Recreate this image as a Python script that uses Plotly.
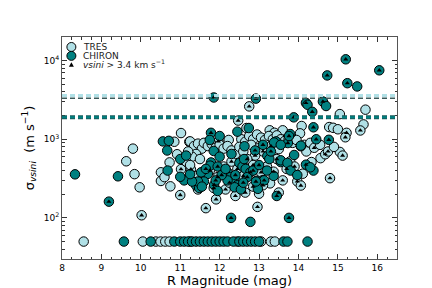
import plotly.graph_objects as go

# ---------------- data ----------------
tres_mag = [8.55, 10.05, 10.38, 10.5, 10.62, 10.73, 11.25, 12.45, 13.05, 13.3, 13.4,
            9.63, 9.8, 9.84, 9.97, 10.02,
            10.51, 10.51, 10.6, 10.73, 10.75, 10.85, 10.92, 11.02, 11.23, 11.25, 11.97,
            11.02, 11.27, 11.0, 11.65, 11.91, 12.96, 13.0, 13.5, 13.28, 13.37, 13.79,
            13.97, 14.06, 14.11, 14.33, 14.56, 14.68, 14.8, 15.05, 15.12,
            12.47, 12.75, 14.08, 15.05, 15.7, 15.65, 15.57, 14.78, 14.88, 15.0, 15.22, 15.19,
            13.27, 13.39, 13.6, 14.04, 12.23, 12.68,
            11.35, 11.45, 11.55, 11.6, 11.7, 11.8, 11.9, 12.0, 12.1, 12.2, 12.3, 12.4, 11.4, 11.3, 11.5, 11.2, 11.15, 11.25,
            12.55, 12.65, 12.75, 12.85, 12.95, 13.05, 13.15, 13.25, 13.35, 13.45, 13.55, 13.65, 13.75, 13.85, 13.95, 14.15, 14.3,
            12.5, 12.6, 12.8, 13.0, 13.1, 12.9, 12.7, 13.3, 13.5,
            11.75, 11.95, 12.1, 12.3, 12.45, 12.6, 12.85, 13.05, 13.2, 11.55, 11.35, 12.15, 12.4, 12.65, 12.85, 13.1,
            13.6, 13.7, 13.9, 14.2, 14.4, 14.55, 14.75, 14.9, 11.85, 12.25, 13.45, 11.45]
tres_sig = [50, 50, 50, 50, 50, 50, 50, 50, 50, 50, 50,
            525, 760, 360, 245, 108,
            380, 295, 330, 508, 252, 930, 645, 1200, 930, 940, 940,
            417, 415, 195, 133, 172, 138, 203, 210, 275, 387, 524,
            291, 258, 365, 513, 575, 645, 320, 690, 620,
            1730, 2620, 1475, 2090, 2380, 1545, 1294, 1430, 1400, 1340, 1208, 1060,
            1300, 1210, 1300, 1190, 980, 1390,
            820, 880, 760, 900, 820, 870, 780, 850, 760, 820, 720, 650, 650, 600, 560, 700, 520, 470,
            1000, 930, 1100, 1000, 1150, 1050, 980, 1100, 1000, 1120, 1000, 950, 1000, 900, 980, 850, 900,
            800, 700, 850, 780, 700, 620, 560, 820, 750,
            400, 330, 450, 520, 420, 340, 470, 380, 450, 300, 340, 230, 190, 210, 250, 260,
            300, 420, 450, 700, 780, 850, 700, 800, 240, 280, 560, 230]
tres_flag = [0, 0, 0, 0, 0, 0, 0, 0, 0, 0, 0,
             0, 0, 0, 0, 1,
             0, 0, 0, 0, 0, 0, 0, 0, 0, 0, 1,
             1, 1, 1, 1, 1, 1, 0, 1, 0, 1, 0,
             1, 1, 0, 0, 0, 1, 1, 0, 1,
             1, 1, 0, 0, 0, 0, 1, 0, 0, 0, 1, 1,
             0, 0, 0, 0, 0, 0,
             0, 0, 0, 0, 0, 0, 0, 0, 0, 0, 0, 0, 0, 0, 0, 0, 0, 0,
             0, 0, 0, 0, 0, 0, 0, 0, 0, 0, 0, 0, 0, 0, 0, 0, 0,
             0, 0, 0, 0, 1, 1, 1, 1, 0,
             1, 1, 0, 1, 1, 1, 1, 1, 0, 0, 0, 1, 1, 1, 1, 1,
             1, 1, 1, 0, 1, 0, 1, 0, 1, 1, 1, 0]

chiron_mag = [9.57, 10.25, 10.85, 11.0, 11.1, 11.2, 11.3, 11.4, 11.5, 11.6, 11.7, 11.8, 11.9, 12.0, 12.1,
              12.2, 12.35, 12.5, 12.6, 12.7, 12.8, 12.9, 13.0, 13.62, 13.72, 14.23,
              8.33, 9.19, 9.42, 10.56, 10.71, 10.67, 10.68, 11.78, 11.85, 12.92, 14.19, 14.23, 14.35, 14.62,
              14.7, 14.73, 15.2, 15.24, 15.49, 16.05, 13.88, 14.38, 14.45, 14.77, 12.29, 12.78, 13.76, 13.45,
              13.79, 13.43, 13.73, 14.06, 12.63, 12.74,
              13.89, 13.55, 13.37, 12.94, 12.97, 14.19, 14.38, 14.3, 13.1,
              11.85, 11.78, 11.76, 11.7, 11.53, 11.4, 11.48, 11.6, 11.45, 11.55, 11.86, 12.2, 12.28, 12.37, 12.2,
              12.5, 12.58, 12.62, 12.66, 12.78, 12.45, 12.38, 12.54, 13.13, 12.92, 13.21, 13.26, 13.38, 13.55,
              13.76, 14.06, 13.55, 13.72, 13.8, 13.97, 11.1, 11.3, 11.65, 11.95, 12.05, 12.15, 12.4, 12.7,
              12.85, 13.0, 12.0, 12.3, 12.9, 13.1, 13.2, 11.9, 11.95, 12.6, 11.25, 11.0, 11.0, 11.15, 11.75,
              12.0, 12.45, 13.3]
chiron_sig = [50, 50, 50, 50, 50, 50, 50, 50, 50, 50, 50, 50, 50, 50, 50,
              50, 50, 50, 50, 50, 50, 50, 50, 50, 50, 50,
              358, 161, 338, 940, 955, 720, 400, 1208, 3400, 3290, 2900, 2750, 2233, 3020,
              2650, 6490, 10400, 5170, 4700, 7540, 1900, 1420, 1000, 985, 100, 89, 100, 190,
              1165, 940, 895, 815, 815, 1390,
              631, 513, 342, 297, 234, 475, 400, 440, 303,
              710, 507, 462, 363, 380, 260, 240, 290, 290, 250, 263, 380, 330, 300, 300,
              500, 450, 560, 420, 380, 260, 245, 230, 300, 290, 615, 560, 910, 850,
              1100, 830, 540, 500, 400, 350, 300, 290, 420, 450, 350, 420, 350, 330,
              400, 470, 600, 650, 720, 850, 400, 300, 220, 280, 360, 333, 560, 620, 980,
              1100, 1250, 700]
chiron_flag = [0, 0, 0, 0, 0, 0, 0, 0, 0, 0, 0, 0, 0, 0, 0,
               0, 0, 0, 0, 0, 0, 0, 0, 0, 0, 0,
               0, 1, 0, 0, 0, 0, 0, 1, 1, 1, 1, 0, 1, 1,
               0, 1, 1, 1, 0, 1, 1, 1, 1, 1, 1, 0, 1, 1,
               0, 0, 1, 0, 0, 0,
               0, 0, 0, 0, 0, 1, 0, 0, 0,
               0, 0, 0, 0, 0, 0, 0, 0, 0, 0, 1, 0, 0, 0, 0,
               0, 0, 0, 0, 1, 0, 0, 0, 1, 1, 0, 0, 0, 0,
               1, 0, 0, 0, 0, 0, 0, 0, 1, 1, 1, 0, 1, 1,
               1, 1, 0, 0, 1, 1, 0, 1, 0, 1, 0, 0, 0, 0, 0,
               0, 0, 1]

# horizontal reference levels (m/s)
tres_level = [3600]
tres_level_edge = [3320]
chiron_level = [1900]

x_ticks = [8, 9, 10, 11, 12, 13, 14, 15, 16]
y_ticks = [100, 1000, 10000]
y_ticktext = ["10<sup>2</sup>", "10<sup>3</sup>", "10<sup>4</sup>"]

TRES_C = "#B0E0E6"
CHIRON_C = "#008080"
FONT = "DejaVu Sans"

fig = go.Figure()
fig.add_trace(go.Scatter(x=tres_mag, y=tres_sig, mode="markers", name="TRES",
                         marker=dict(size=9.5, color=TRES_C, line=dict(color="black", width=1)),
                         showlegend=False))
fig.add_trace(go.Scatter(x=chiron_mag, y=chiron_sig, mode="markers", name="CHIRON",
                         marker=dict(size=9.5, color=CHIRON_C, line=dict(color="black", width=1)),
                         showlegend=False))
tri_x = [m for m, f in zip(tres_mag, tres_flag) if f] + [m for m, f in zip(chiron_mag, chiron_flag) if f]
tri_y = [s for s, f in zip(tres_sig, tres_flag) if f] + [s for s, f in zip(chiron_sig, chiron_flag) if f]
fig.add_trace(go.Scatter(x=tri_x, y=tri_y, mode="markers", name="vsini > 3.4",
                         marker=dict(size=4.5, symbol="triangle-up", color="black", line=dict(width=0)),
                         showlegend=False))

# reference lines
for v in tres_level:
    fig.add_shape(type="line", xref="paper", x0=0, x1=1, yref="y", y0=v, y1=v,
                  line=dict(color=TRES_C, width=3, dash="5px,3px"))
for v in tres_level_edge:
    fig.add_shape(type="line", xref="paper", x0=0, x1=1, yref="y", y0=v, y1=v,
                  line=dict(color="#3a5a5a", width=1.5, dash="5px,3px"))
for v in chiron_level:
    fig.add_shape(type="line", xref="paper", x0=0, x1=1, yref="y", y0=v, y1=v,
                  line=dict(color="#1a5a5a", width=4, dash="5px,3px"))
    fig.add_shape(type="line", xref="paper", x0=0, x1=1, yref="y", y0=v, y1=v,
                  line=dict(color=CHIRON_C, width=2, dash="5px,3px"))

# manual legend
leg = [(0.028, 0.955, TRES_C, "TRES"), (0.028, 0.915, CHIRON_C, "CHIRON")]
for lx, ly, c, t in leg:
    fig.add_shape(type="circle", xref="paper", yref="paper", xsizemode="pixel", ysizemode="pixel",
                  xanchor=lx, yanchor=ly, x0=-4.5, x1=4.5, y0=-4.5, y1=4.5,
                  fillcolor=c, line=dict(color="black", width=1))
    fig.add_annotation(xref="paper", yref="paper", x=lx + 0.03, y=ly, text=t, showarrow=False,
                       xanchor="left", yanchor="middle", font=dict(size=9, family=FONT, color="#222"))
fig.add_shape(type="path", xref="paper", yref="paper", xsizemode="pixel", ysizemode="pixel",
              xanchor=0.028, yanchor=0.875, path="M -2.5 -2 L 2.5 -2 L 0 2.5 Z",
              fillcolor="black", line=dict(width=0))
fig.add_annotation(xref="paper", yref="paper", x=0.058, y=0.877,
                   text="<i>vsini</i> > 3.4 km s<sup>−1</sup>", showarrow=False,
                   xanchor="left", yanchor="middle", font=dict(size=9, family=FONT, color="#222"))

axis_common = dict(showline=True, linecolor="#555", linewidth=1, mirror="allticks",
                   ticks="inside", tickcolor="#333", showgrid=False, zeroline=False,
                   tickfont=dict(size=9, family=FONT, color="black"))
fig.update_xaxes(range=[8, 16.5], tickvals=x_ticks, ticklen=5,
                 minor=dict(ticks="inside", ticklen=2.5, dtick=0.25, tickcolor="#333", showgrid=False),
                 title=dict(text="R Magnitude (mag)", font=dict(size=13, family=FONT, color="black"), standoff=2),
                 **axis_common)
minor_y = [m * 10 ** e for e in range(1, 5) for m in range(2, 10)]
fig.update_yaxes(type="log", range=[1.477, 4.301], tickvals=y_ticks, ticktext=y_ticktext, ticklen=5,
                 minor=dict(ticks="inside", ticklen=2.5, tickvals=minor_y, tickcolor="#333", showgrid=False),
                 title=dict(text="σ<sub><i>vsini</i></sub>  (m s<sup>−1</sup>)",
                            font=dict(size=13, family=FONT, color="black"), standoff=6),
                 **axis_common)
fig.update_layout(width=432, height=288, autosize=False,
                  margin=dict(l=54, r=43, t=29, b=29),
                  plot_bgcolor="white", paper_bgcolor="white",
                  font=dict(family=FONT), showlegend=False)
fig.write_html("out.html")
